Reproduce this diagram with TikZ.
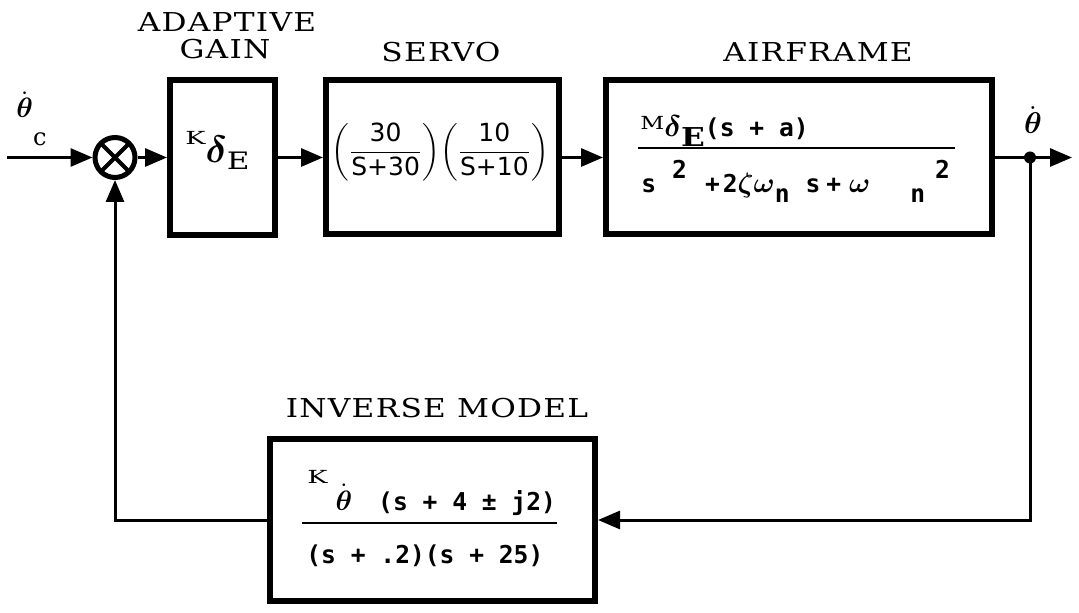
\RequirePackage{fix-cm}
\documentclass[tikz,border=0pt]{standalone}
\usepackage{amsmath}
\usepackage{graphicx}
\usepackage{fontspec}
\newfontfamily\lbl[LetterSpace=4]{DejaVu Serif}
\newfontfamily\lblplain{DejaVu Serif}
\newfontfamily\mono{DejaVu Sans Mono}
\newfontfamily\sansf{DejaVu Sans}
\newcommand\labtxt[1]{\scalebox{1.2}[1]{\fontsize{13}{15}\selectfont\lbl #1}}
\newcommand\wideK[1]{\scalebox{1.5}[1]{\fontsize{#1}{#1}\selectfont\lblplain\mdseries K}}
\usetikzlibrary{arrows.meta}
\begin{document}
\begin{tikzpicture}[x=0.5pt,y=-0.5pt,
  blk/.style={draw, line width=3pt, inner sep=0pt},
  lab/.style={inner sep=0pt},
  txt/.style={inner sep=0pt},
  eq/.style={inner sep=0pt, anchor=base west, font=\fontsize{12.3}{14}\selectfont\mono\bfseries},
  fracline/.style={line width=1.3pt},
  conn/.style={line width=1.5pt},
  arr/.style={conn, -{Triangle[length=11pt,width=9pt]}},
  sumj/.style={circle, draw, line width=2.5pt, minimum size=20pt, inner sep=0pt,
    path picture={\draw[line width=2pt]
      (path picture bounding box.north west) -- (path picture bounding box.south east)
      (path picture bounding box.north east) -- (path picture bounding box.south west);}}
]
\useasboundingbox (0,0) rectangle (1079,613);

% blocks
\node[blk, minimum width=52.5pt, minimum height=77.5pt] (gain) at (222.5,157.5) {};
\node[blk, minimum width=116.5pt, minimum height=77pt] (servo) at (442.5,157.5) {};
\node[blk, minimum width=193pt, minimum height=77pt] (air) at (799,157.5) {};
\node[blk, minimum width=162.5pt, minimum height=80.5pt] (inv) at (432.5,520) {};
\node[sumj] (sum) at (115,157.5) {};

% titles
\node[lab] (lag1) at (227,22) {\labtxt{ADAPTIVE}};
\node[lab] (lag2) at (225,49) {\labtxt{GAIN}};
\node[lab] (ls) at (441,52) {\labtxt{SERVO}};
\node[lab] (la) at (818,52) {\labtxt{AIRFRAME}};
\node[lab] (li) at (437,408) {\labtxt{INVERSE MODEL}};

% adaptive gain
\node[txt, anchor=base west] (gtxt) at (185,145)
  {\wideK{9}\raisebox{-9pt}{\fontsize{19}{19}\selectfont$\boldsymbol\delta$}\raisebox{-12.5pt}{\scalebox{1.3}[1]{\fontsize{12}{12}\selectfont\lblplain E}}};

% servo
\node[txt] (stxt) at (440,152)
  {\fontsize{12.5}{14}\selectfont$\left(\dfrac{\mbox{\sansf 30}}{\mbox{\sansf S+30}}\right)\!\left(\dfrac{\mbox{\sansf 10}}{\mbox{\sansf S+10}}\right)$};

% airframe
\node[eq] (anum) at (640,137)
  {\raisebox{3.5pt}{\scalebox{1.3}[1]{\fontsize{9}{9}\selectfont\lblplain\mdseries M}}{\fontsize{15}{15}\selectfont$\boldsymbol\delta$}\raisebox{-5pt}{\scalebox{1.2}[1]{\fontsize{13}{13}\selectfont\lblplain E}}(s + a)};
\node[eq] (aden) at (641,193)
  {s\hspace{8pt}\raisebox{7pt}{2}\hspace{9pt}+\hspace{1.5pt}2{\fontsize{14}{14}\selectfont$\boldsymbol{\zeta\omega}$}\raisebox{-5pt}{n}\hspace{8pt}s\hspace{3pt}+\hspace{4pt}{\fontsize{14}{14}\selectfont$\boldsymbol\omega$}\hspace{20pt}\raisebox{-5pt}{n}\hspace{5pt}\raisebox{7pt}{2}};
\draw[fracline] (638,148) -- (955,148);

% inverse model
\node[eq] (inum) at (307,510)
  {\raisebox{13.5pt}{\wideK{9}}\hspace{4pt}{\fontsize{14}{14}\selectfont$\dot{\boldsymbol\theta}$}\hspace{13pt}(s + 4 ± j2)};
\node[eq] (iden) at (306,563) {(s + .2)(s + 25)};
\draw[fracline] (302,523) -- (557,523);

% signal labels
\node[txt, anchor=base west] (thc) at (16,118) {\fontsize{14}{14}\selectfont$\dot{\boldsymbol\theta}$\raisebox{-14pt}{\fontsize{12}{12}\selectfont\lblplain c}};
\node[txt, anchor=base] (tho) at (1033,134) {\fontsize{15}{15}\selectfont$\dot{\boldsymbol\theta}$};

% connectors
\coordinate (in) at (7,157.5);
\coordinate (tap) at (1030,157.5);
\coordinate (out) at (1072,157.5);
\draw[arr] (in) -- (sum);
\draw[arr] (sum) -- (gain);
\draw[arr] (gain) -- (servo);
\draw[arr] (servo) -- (air);
\draw[arr] (air) -- (out);
\fill (tap) circle (3pt);
\draw[arr] (tap) |- (inv.east);
\draw[arr] (inv.west) -| (sum.south);
\end{tikzpicture}
\end{document}
